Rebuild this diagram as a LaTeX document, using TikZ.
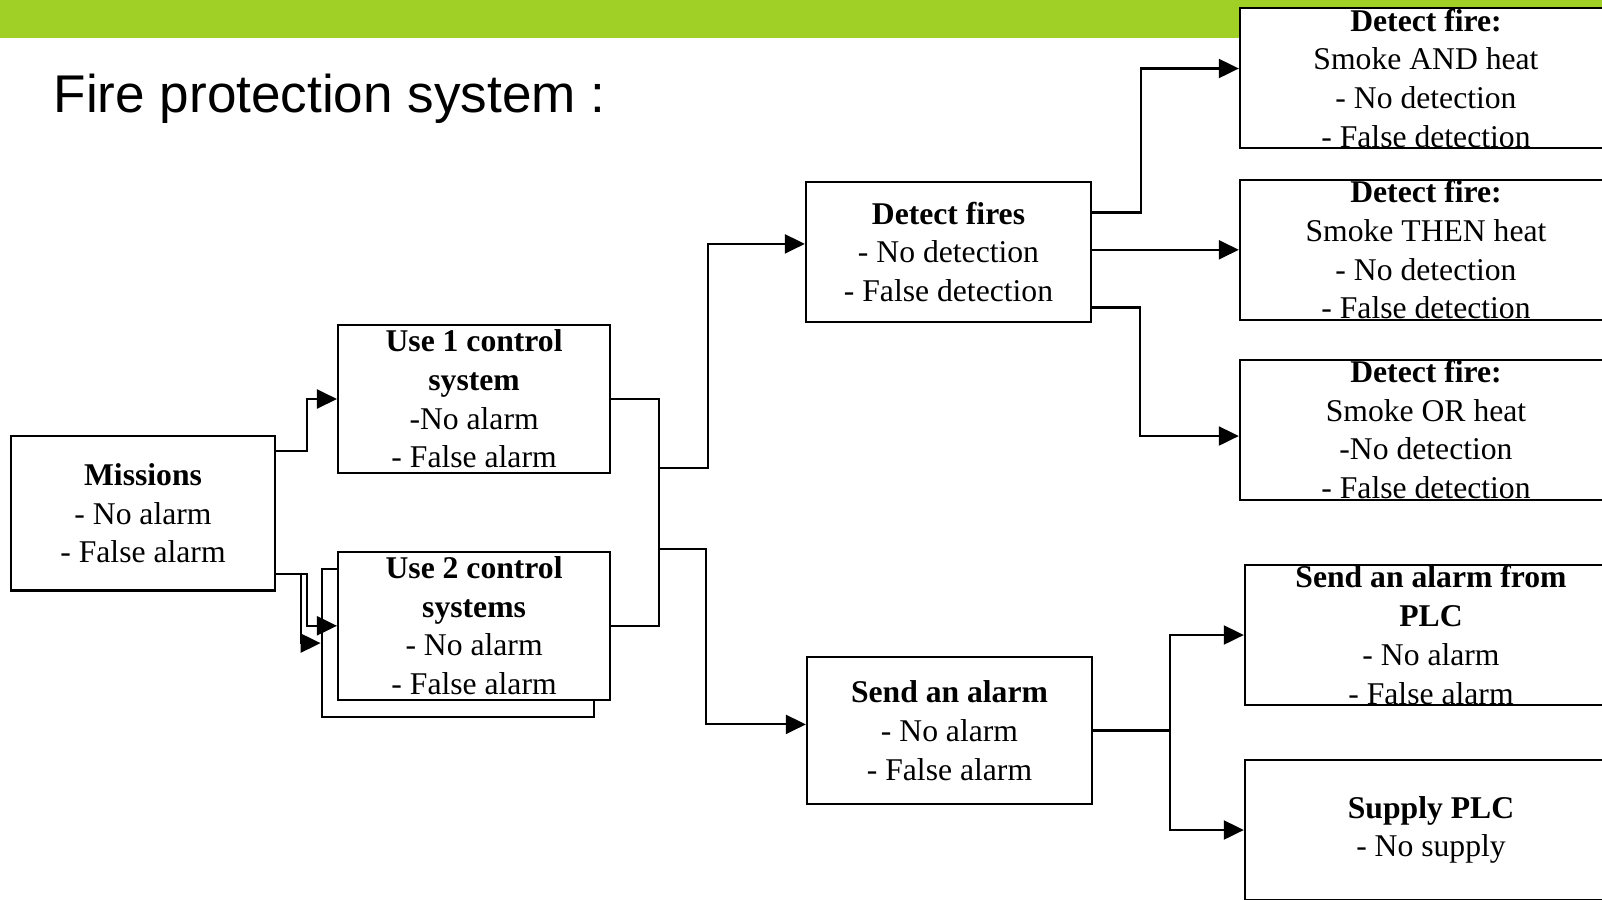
\documentclass[tikz,border=0pt]{standalone}
\usepackage{fontspec}
\setmainfont{Liberation Serif}
\newfontfamily\titlefont{Liberation Sans}
\usetikzlibrary{arrows.meta}
\definecolor{bargreen}{HTML}{A0CF25}
\tikzset{
  box/.style={draw=black,line width=0.6pt,fill=white,inner sep=0pt,
              minimum width=2.72cm,minimum height=1.48cm},
  rbox/.style={box,minimum width=3.72cm,minimum height=1.4cm},
  txt/.style={align=center,inner sep=0pt,font=\fontsize{9}{11}\selectfont},
  link/.style={draw=black,line width=0.6pt},
  arr/.style={-{Triangle[length=2mm,width=1.9mm]},link}
}
\begin{document}
\begin{tikzpicture}[x=0.01cm,y=-0.01cm]
  \useasboundingbox (0,0) rectangle (1602,899);
  \clip (0,0) rectangle (1602,899);
  \fill[bargreen] (0,0) rectangle (1602,37.8);
  \node[anchor=base west,inner sep=0pt,font=\titlefont\fontsize{15.1}{18}\selectfont] (title) at (53,112) {Fire protection system :};

  % left part
  \node[box,minimum width=2.636cm,minimum height=1.54cm] (missions) at (143,513.4) {};
  \node[box] (use1) at (474.1,399) {};
  \node[box] (use2sh) at (457.7,643.1) {};
  \node[box] (use2) at (474.1,625.8) {};
  \node[box,minimum width=2.85cm,minimum height=1.4cm] (detect) at (948.5,251.9) {};
  \node[box,minimum width=2.85cm,minimum height=1.47cm] (sendal) at (949.5,730.5) {};

  % right column
  \node[rbox] (fireand) at (1426,78.2) {};
  \node[rbox] (firethen) at (1426,249.8) {};
  \node[rbox] (fireor) at (1426,429.6) {};
  \node[rbox] (sendplc) at (1431,635) {};
  \node[rbox] (supply) at (1431,830) {};

  \node[txt] (missionsT) at (missions.center) {\textbf{Missions}\\- No alarm\\- False alarm};
  \node[txt] (use1T) at (use1.center) {\textbf{Use 1 control}\\\textbf{system}\\-No alarm\\- False alarm};
  \node[txt] (use2T) at (use2.center) {\textbf{Use 2 control}\\\textbf{systems}\\- No alarm\\- False alarm};
  \node[txt] (detectT) at (detect.center) {\textbf{Detect fires}\\- No detection\\- False detection};
  \node[txt] (sendalT) at (sendal.center) {\textbf{Send an alarm}\\- No alarm\\- False alarm};
  \node[txt] (fireandT) at (fireand.center) {\textbf{Detect fire:}\\Smoke AND heat\\- No detection\\- False detection};
  \node[txt] (firethenT) at (firethen.center) {\textbf{Detect fire:}\\Smoke THEN heat\\- No detection\\- False detection};
  \node[txt] (fireorT) at (fireor.center) {\textbf{Detect fire:}\\Smoke OR heat\\-No detection\\- False detection};
  \node[txt] (sendplcT) at (sendplc.center) {\textbf{Send an alarm from}\\\textbf{PLC}\\- No alarm\\- False alarm};
  \node[txt] (supplyT) at (supply.center) {\textbf{Supply PLC}\\- No supply};

  % connectors
  \draw[arr] ([yshift=6.28mm]missions.east) -- ++(31,0) |- (use1.west);
  \draw[arr] ([yshift=-6.06mm]missions.east) -- ++(31,0) |- (use2.west);
  \draw[arr] ([yshift=-6.06mm]missions.east) -- ++(25,0) |- (use2sh.west);

  \draw[link] (use1.east) -- ++(48,0) |- (use2.east);
  \coordinate (jA) at (658,468);
  \coordinate (jB) at (658,548.6);
  \draw[arr] (jA) -- ++(50,0) |- ([yshift=0.8mm]detect.west);
  \draw[arr] (jB) -- ++(48,0) |- ([yshift=0.61mm]sendal.west);

  \draw[arr] ([yshift=3.94mm]detect.east) -- ++(49,0) |- ([yshift=0.97mm]fireand.west);
  \draw[arr] (detect.east |- firethen.west) -- (firethen.west);
  \draw[arr] ([yshift=-5.56mm]detect.east) -- ++(48,0) |- ([yshift=-0.64mm]fireor.west);

  \draw[link] (sendal.east) -- ++(77,0) coordinate (jC);
  \draw[arr] (jC) |- (sendplc.west);
  \draw[arr] (jC) |- (supply.west);
\end{tikzpicture}
\end{document}
